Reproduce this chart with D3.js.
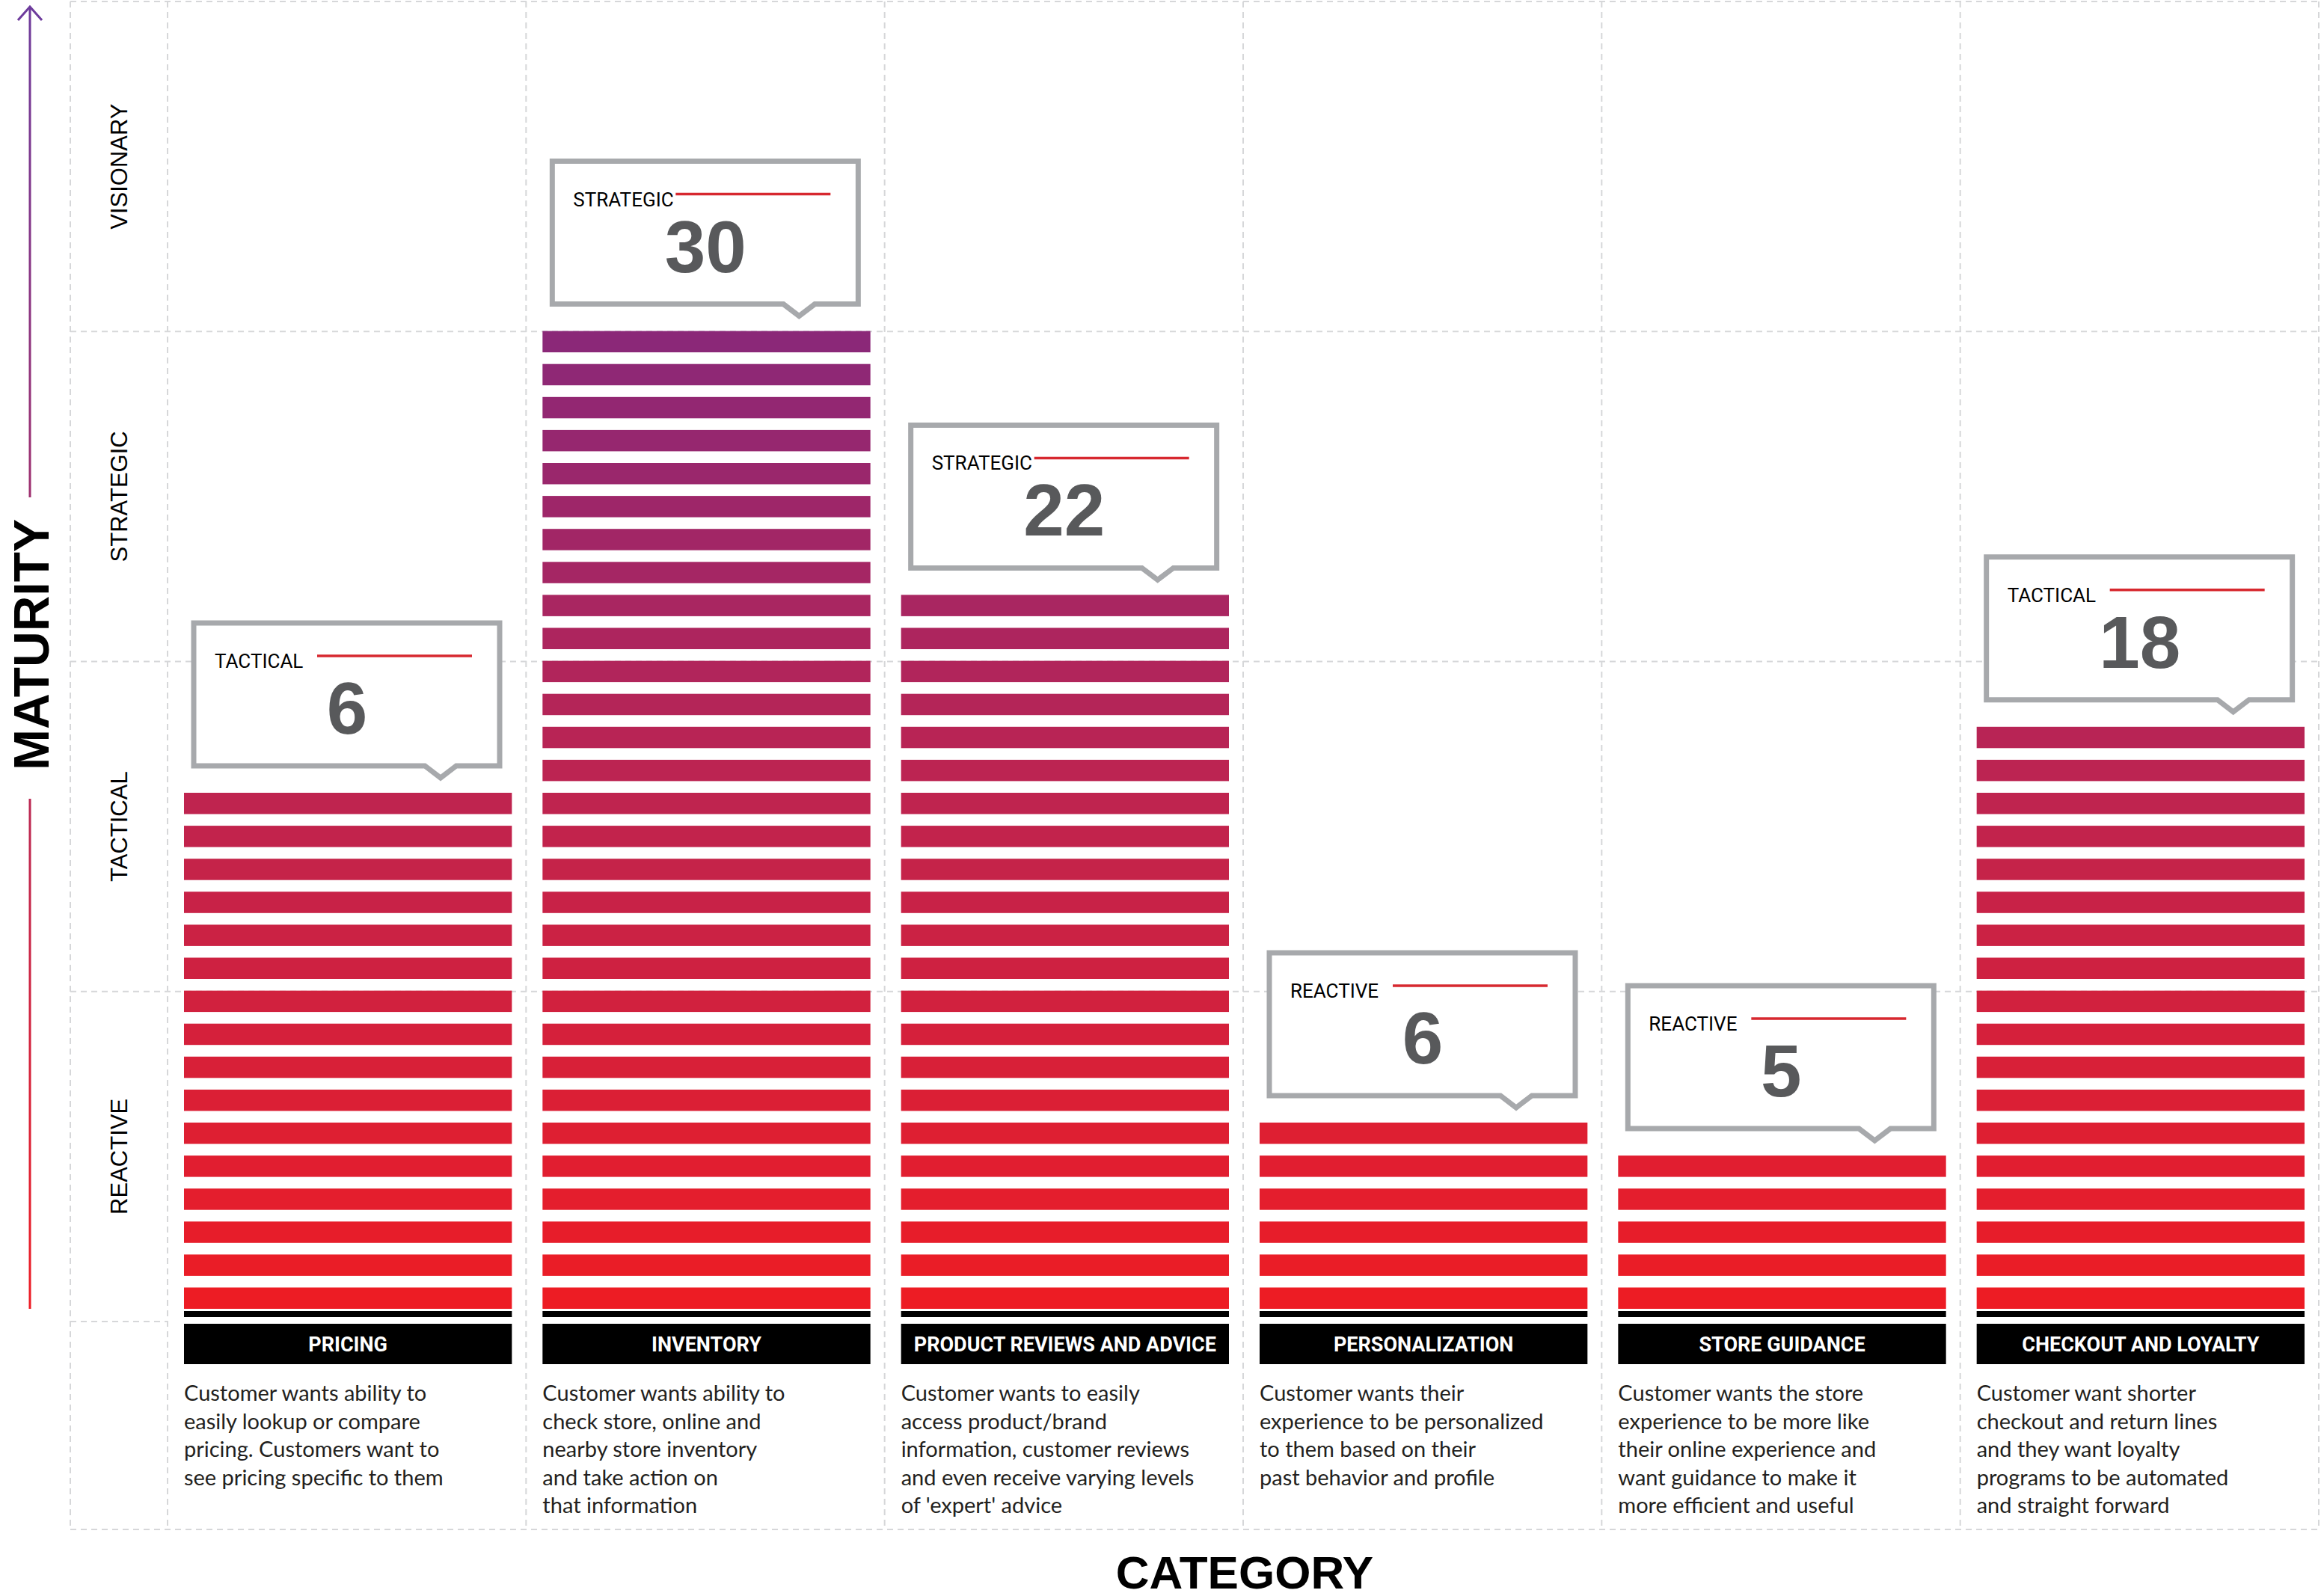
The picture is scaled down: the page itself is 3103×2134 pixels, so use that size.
<!DOCTYPE html>
<html>
<head>
<meta charset="utf-8">
<script src="https://cdn.jsdelivr.net/npm/d3@7"></script>
<style>
  body { margin: 0; background: #fff; }
  svg { display: block; }
</style>
</head>
<body>
<div id="chart"></div>
<script>
// chart data
var categories = ["PRICING", "INVENTORY", "PRODUCT REVIEWS AND ADVICE", "PERSONALIZATION", "STORE GUIDANCE", "CHECKOUT AND LOYALTY"];
var barCounts = [16, 30, 22, 6, 5, 18];
var calloutLevels = ["TACTICAL", "STRATEGIC", "STRATEGIC", "REACTIVE", "REACTIVE", "TACTICAL"];
var calloutValues = [6, 30, 22, 6, 5, 18];
var maturityLevels = ["VISIONARY", "STRATEGIC", "TACTICAL", "REACTIVE"];
var descriptions = [
    ["Customer wants ability to", "easily lookup or compare", "pricing. Customers want to", "see pricing specific to them"],
    ["Customer wants ability to", "check store, online and", "nearby store inventory", "and take action on", "that information"],
    ["Customer wants to easily", "access product/brand", "information, customer reviews", "and even receive varying levels", "of 'expert' advice"],
    ["Customer wants their", "experience to be personalized", "to them based on their", "past behavior and profile"],
    ["Customer wants the store", "experience to be more like", "their online experience and", "want guidance to make it", "more efficient and useful"],
    ["Customer want shorter", "checkout and return lines", "and they want loyalty", "programs to be automated", "and straight forward"]
];

var width = 3103, height = 2134;
var narrow = "'Liberation Sans Narrow', 'Roboto', sans-serif";

var svg = d3.select("#chart").append("svg")
    .attr("width", width)
    .attr("height", height);

var x = d3.scaleBand().domain(categories).range([224, 3100]);
var rows = d3.scaleBand().domain(maturityLevels).range([2, 1767]);
var pitch = 44.1;
var y = d3.scaleLinear().domain([0, 30]).range([1750, 1750 - 30 * pitch]);
var barH = 28.5;
var color = d3.scaleLinear().domain([0, 16, 29]).range(["#ed1c24", "#bc2452", "#8b2878"]);

// grid
var grid = svg.append("g")
    .attr("stroke", "#d6d7d9")
    .attr("stroke-width", 2)
    .attr("stroke-dasharray", "8,6")
    .attr("fill", "none");

[94].concat(categories.map(c => x(c)), [3100]).forEach(function(gx) {
    grid.append("line").attr("x1", gx).attr("x2", gx).attr("y1", 2).attr("y2", 2045);
});
maturityLevels.forEach(function(m) {
    grid.append("line").attr("x1", 94).attr("x2", 3100).attr("y1", rows(m)).attr("y2", rows(m));
});
grid.append("line").attr("x1", 94).attr("x2", 224).attr("y1", rows.range()[1]).attr("y2", rows.range()[1]);
grid.append("line").attr("x1", 94).attr("x2", 3100).attr("y1", 2045).attr("y2", 2045);

// maturity row labels
svg.selectAll(".rowLabel")
    .data(maturityLevels)
    .enter()
    .append("text")
    .attr("transform", d => "translate(170," + (rows(d) + rows.bandwidth() / 2) + ") rotate(-90)")
    .attr("text-anchor", "middle")
    .attr("font-family", "'Liberation Sans', Arial, sans-serif")
    .attr("font-size", 31)
    .attr("fill", "#000")
    .text(d => d);

// axis arrow
var defs = svg.append("defs");
var grad = defs.append("linearGradient")
    .attr("id", "axisGrad")
    .attr("gradientUnits", "userSpaceOnUse")
    .attr("x1", 0).attr("y1", 0).attr("x2", 0).attr("y2", 1750);
grad.append("stop").attr("offset", "0%").attr("stop-color", "#6d3b9c");
grad.append("stop").attr("offset", "100%").attr("stop-color", "#ed1c24");

svg.append("line").attr("x1", 40).attr("x2", 40).attr("y1", 10).attr("y2", 665)
    .attr("stroke", "url(#axisGrad)").attr("stroke-width", 3);
svg.append("line").attr("x1", 40).attr("x2", 40).attr("y1", 1068).attr("y2", 1750)
    .attr("stroke", "url(#axisGrad)").attr("stroke-width", 3);
svg.append("path").attr("d", "M24,27 L40,9 L56,27")
    .attr("fill", "none").attr("stroke", "#6d3b9c").attr("stroke-width", 3);

svg.append("text")
    .attr("transform", "translate(65,862) rotate(-90)")
    .attr("text-anchor", "middle")
    .attr("font-family", "'Liberation Sans', Arial, sans-serif")
    .attr("font-weight", "bold")
    .attr("font-size", 66)
    .text("MATURITY");

svg.append("text")
    .attr("x", 1664)
    .attr("y", 2124)
    .attr("text-anchor", "middle")
    .attr("font-family", "'Liberation Sans', Arial, sans-serif")
    .attr("font-weight", "bold")
    .attr("font-size", 62)
    .text("CATEGORY");

// columns
categories.forEach(function(c, ci) {
    var g = svg.append("g");
    var bx = x(c) + 22, bw = x.bandwidth() - 41;

    g.selectAll("rect.bar")
        .data(d3.range(barCounts[ci]))
        .enter()
        .append("rect")
        .attr("class", "bar")
        .attr("x", bx)
        .attr("width", bw)
        .attr("y", i => y(i) - barH)
        .attr("height", barH)
        .attr("fill", i => color(i));

    g.append("rect").attr("x", bx).attr("width", bw).attr("y", 1753).attr("height", 8).attr("fill", "#000");
    g.append("rect").attr("x", bx).attr("width", bw).attr("y", 1770).attr("height", 54).attr("fill", "#000");
    g.append("text")
        .attr("x", bx + bw / 2)
        .attr("y", 1807)
        .attr("text-anchor", "middle")
        .attr("font-family", narrow)
        .attr("font-weight", "bold")
        .attr("font-size", 27)
        .attr("fill", "#fff")
        .text(c);

    g.append("text")
        .attr("font-family", "Lato, 'Open Sans', sans-serif")
        .attr("font-weight", 400)
        .attr("font-size", 29)
        .attr("fill", "#231f20")
        .selectAll("tspan")
        .data(descriptions[ci])
        .enter()
        .append("tspan")
        .attr("x", bx)
        .attr("y", (d, i) => 1873 + i * 37.5)
        .text(d => d);

    // callout box
    var left = x(c) + 35, w = 409, h = 191;
    var bottom = y(barCounts[ci] - 1) - barH - 36;
    var top = bottom - h;
    var tip = left + 330;
    g.append("path")
        .attr("d", "M" + left + "," + top + " H" + (left + w) + " V" + bottom +
            " H" + (tip + 21) + " L" + tip + "," + (bottom + 16) + " L" + (tip - 21) + "," + bottom +
            " H" + left + " Z")
        .attr("fill", "#fff")
        .attr("stroke", "#a7a9ac")
        .attr("stroke-width", 7);
    g.append("text")
        .attr("x", left + 28)
        .attr("y", top + 60)
        .attr("font-family", narrow)
        .attr("font-size", 26)
        .attr("fill", "#000")
        .text(calloutLevels[ci]);
    g.append("line")
        .attr("x1", left + 165).attr("x2", left + 372)
        .attr("y1", top + 44).attr("y2", top + 44)
        .attr("stroke", "#d7282f").attr("stroke-width", 3.5);
    g.append("text")
        .attr("x", left + 205)
        .attr("y", top + 148)
        .attr("text-anchor", "middle")
        .attr("font-family", "'Liberation Sans', Arial, sans-serif")
        .attr("font-weight", "bold")
        .attr("font-size", 98)
        .attr("fill", "#58595b")
        .text(calloutValues[ci]);
});
</script>
</body>
</html>
